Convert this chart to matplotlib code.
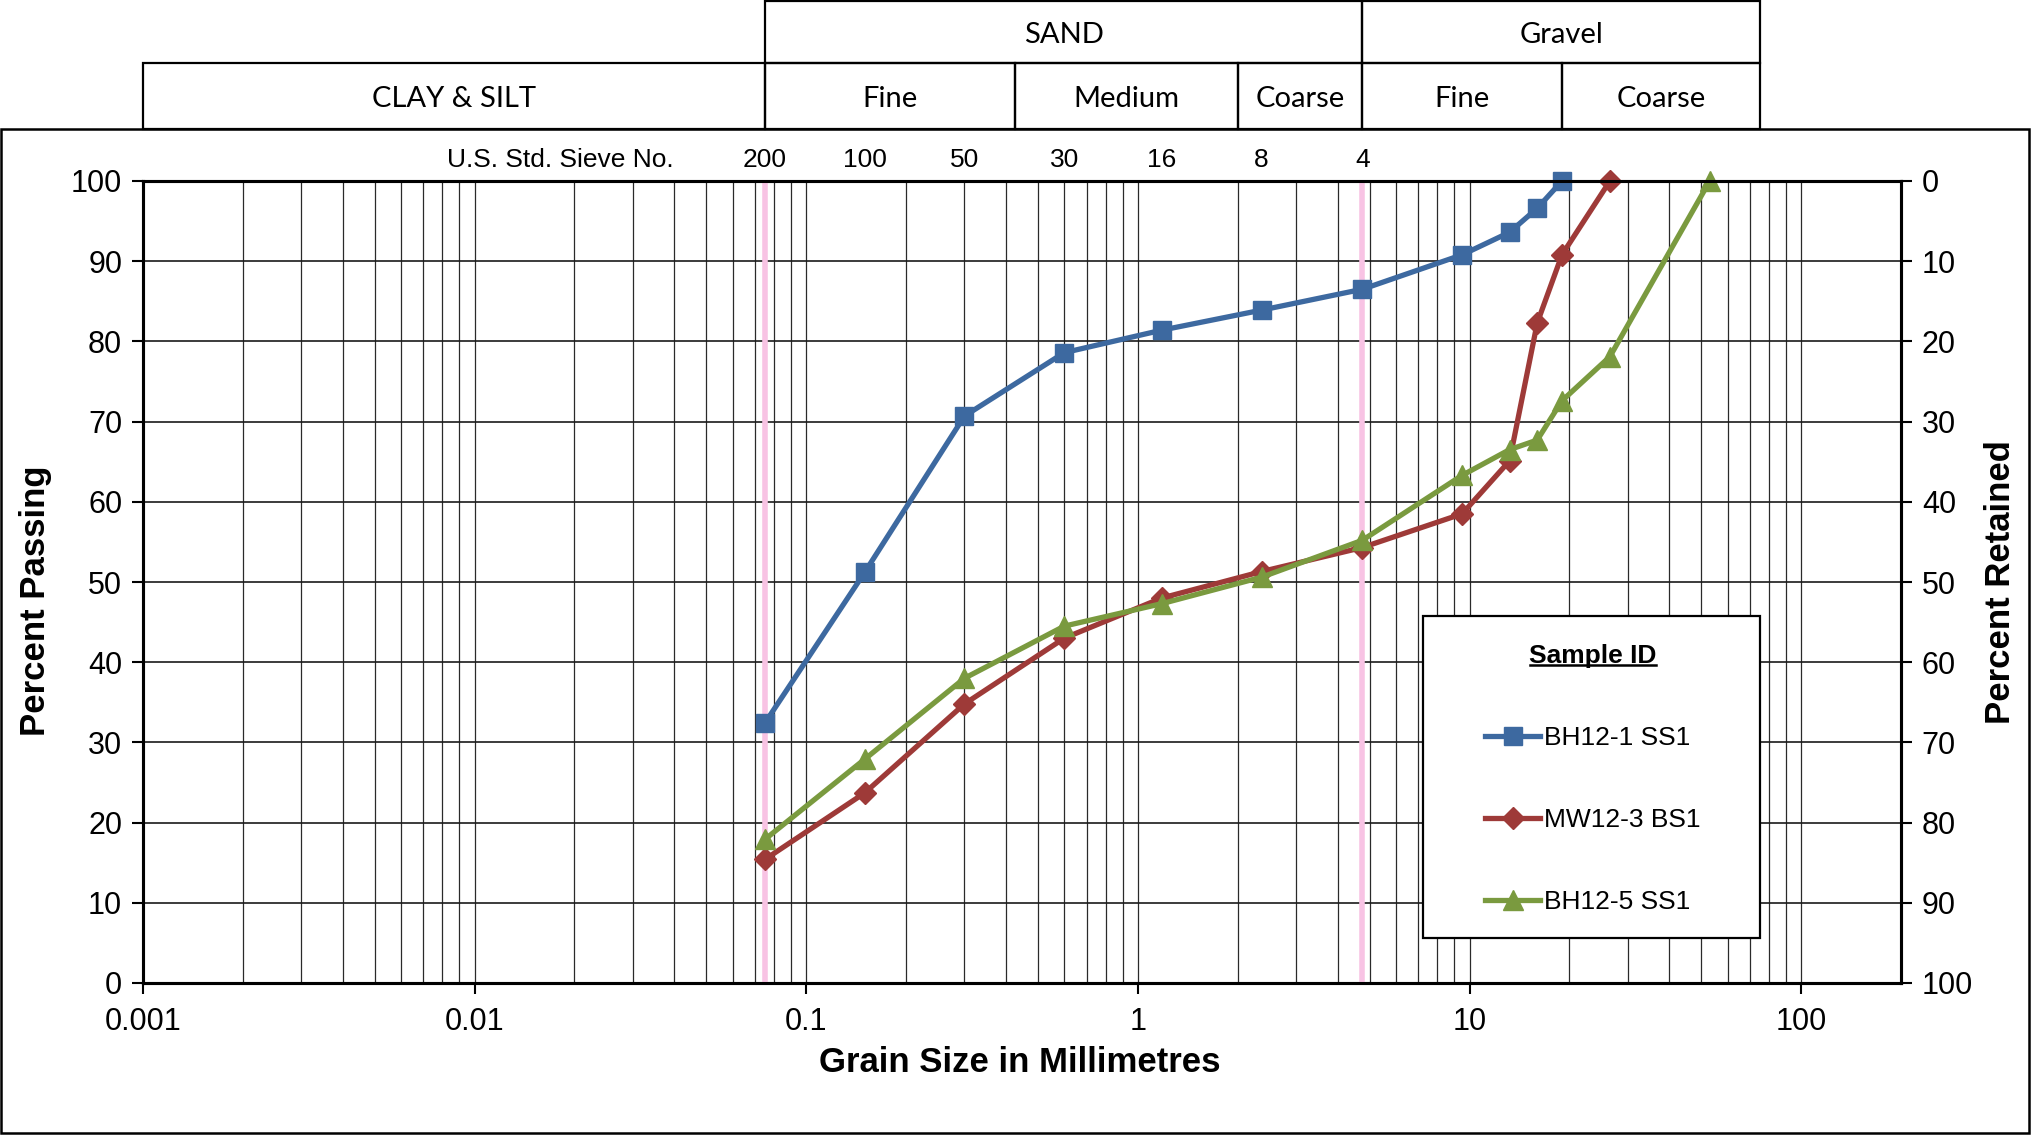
import matplotlib
matplotlib.use('Agg')
import matplotlib.pyplot as plt
import matplotlib.transforms as mtransforms
from matplotlib.lines import Line2D
from matplotlib.patches import Rectangle

plt.rcParams['font.family'] = ['Liberation Sans', 'DejaVu Sans']

# ---------------- data ----------------
sieve_mm = [0.075, 0.15, 0.3, 0.6, 1.18, 2.36, 4.75, 9.5, 13.2, 16, 19, 26.5, 53]
bh12_1 = [32.4, 51.2, 70.7, 78.6, 81.4, 83.9, 86.5, 90.8, 93.6, 96.6, 100]
mw12_3 = [15.4, 23.7, 34.8, 43.0, 48.0, 51.3, 54.3, 58.5, 65.1, 82.3, 90.8, 100]
bh12_5 = [17.9, 27.9, 38.0, 44.5, 47.3, 50.6, 55.2, 63.3, 66.5, 67.7, 72.6, 78.1, 100]
series_names = ['BH12-1 SS1', 'MW12-3 BS1', 'BH12-5 SS1']

sieve_numbers = ['200', '100', '50', '30', '16', '8', '4']
sieve_number_mm = [0.075, 0.15, 0.3, 0.6, 1.18, 2.36, 4.75]
boundary_mm = [0.075, 4.75]
xtick_vals = [0.001, 0.01, 0.1, 1, 10, 100]
xtick_labels = ['0.001', '0.01', '0.1', '1', '10', '100']
yticks = list(range(0, 101, 10))

top_row = [('SAND', 0.075, 4.75), ('Gravel', 4.75, 75)]
second_row = [('CLAY & SILT', 0.001, 0.075), ('Fine', 0.075, 0.425),
              ('Medium', 0.425, 2.0), ('Coarse', 2.0, 4.75),
              ('Fine', 4.75, 19), ('Coarse', 19, 75)]

# ---------------- figure ----------------
W, H = 2041, 1136
fig = plt.figure(figsize=(W / 100, H / 100), dpi=100)
ax = fig.add_axes([143 / W, 1 - 983 / H, (1901 - 143) / W, (983 - 181) / H])

ax.set_xscale('log')
ax.set_xlim(0.001, 200)
ax.set_ylim(0, 100)

colors = ['#3D69A0', '#9E3A38', '#7A9A3F']
markers = ['s', 'D', '^']
msizes = [13, 11, 15]
datasets = [bh12_1, mw12_3, bh12_5]
handles = []
for vals, c, m, ms, name in zip(datasets, colors, markers, msizes, series_names):
    h, = ax.plot(sieve_mm[:len(vals)], vals, color=c, marker=m, markersize=ms,
                 lw=3.8, label=name, zorder=5, clip_on=False)
    handles.append(h)

for b in boundary_mm:
    ax.axvline(b, color='#F8C3E4', lw=4, zorder=3)

# grid
ax.grid(which='major', axis='y', color='#1a1a1a', lw=1.2, zorder=1)
ax.grid(which='both', axis='x', color='#2a2a2a', lw=0.9, zorder=1)
ax.set_axisbelow(True)

ax.set_xticks(xtick_vals)
ax.set_xticklabels(xtick_labels)
ax.set_yticks(yticks)
ax.tick_params(axis='both', which='major', labelsize=22, length=8, width=1.5,
               direction='out', colors='black')
ax.tick_params(axis='x', which='major', pad=9)
ax.tick_params(axis='y', which='major', pad=7)
ax.tick_params(axis='x', which='minor', length=0)
for s in ax.spines.values():
    s.set_linewidth(2.2)
    s.set_color('black')

ax2 = ax.twinx()
ax2.set_ylim(100, 0)
ax2.set_yticks(yticks)
ax2.tick_params(axis='y', labelsize=22, length=8, width=1.5, pad=7)
for s in ax2.spines.values():
    s.set_linewidth(2.2)

# axis titles
fig.text(36 / W, 1 - 601 / H, 'Percent Passing', rotation=90, ha='center',
         va='center', weight='bold', size=25)
fig.text(2001 / W, 1 - 582 / H, 'Percent Retained', rotation=90, ha='center',
         va='center', weight='bold', size=25)
fig.text(1020 / W, 1 - 1062 / H, 'Grain Size in Millimetres', ha='center',
         va='center', weight='bold', size=25)

# sieve numbers
blend = mtransforms.blended_transform_factory(ax.transData, fig.transFigure)
ysieve = 1 - 160 / H
for lab, xv in zip(sieve_numbers, sieve_number_mm):
    ax.text(xv, ysieve, lab, transform=blend, ha='center', va='center',
            size=19, clip_on=False)
fig.text(674 / W, ysieve, 'U.S. Std. Sieve No.', ha='right', va='center', size=19)

# classification table
row1 = (1 - 63 / H, 1 - 1 / H)
row2 = (1 - 129 / H, 1 - 63 / H)
for rows, (y0, y1) in ((top_row, row1), (second_row, row2)):
    for lab, x0, x1 in rows:
        r = Rectangle((x0, y0), x1 - x0, y1 - y0, transform=blend, fill=False,
                      ec='black', lw=1.6, clip_on=False)
        ax.add_patch(r)
        xc = (x0 * x1) ** 0.5
        ax.text(xc, (y0 + y1) / 2 - 3 / H, lab, transform=blend, ha='center',
                va='center', size=21, family=['Lato', 'DejaVu Sans'],
                clip_on=False)

# outer frame
fig.patches.append(Rectangle((1 / W, 1 - 1133 / H), 2028 / W, (1133 - 129) / H,
                             transform=fig.transFigure, fill=False, ec='black',
                             lw=1.8))

# legend box
box = Rectangle((1423 / W, 1 - 938 / H), (1760 - 1423) / W, (938 - 616) / H,
                transform=fig.transFigure, fc='white', ec='black', lw=1.6,
                zorder=6, clip_on=False)
ax2.add_patch(box)
leg = ax2.legend(handles, series_names, title='Sample ID', loc='center',
                 bbox_to_anchor=(1593 / W, 1 - 779 / H),
                 bbox_transform=fig.transFigure, frameon=False, fontsize=19,
                 title_fontproperties={'weight': 'bold', 'size': 19},
                 labelspacing=2.2, borderpad=1.95, handlelength=2.1,
                 handletextpad=0.15)
leg.set_zorder(7)

fig.canvas.draw()
renderer = fig.canvas.get_renderer()
bb = leg.get_title().get_window_extent(renderer)
fig.add_artist(Line2D([bb.x0 + 1, bb.x1 - 1], [bb.y0 + 3, bb.y0 + 3],
                      transform=mtransforms.IdentityTransform(), color='black',
                      lw=1.8))

fig.savefig('out.png', dpi=100)
